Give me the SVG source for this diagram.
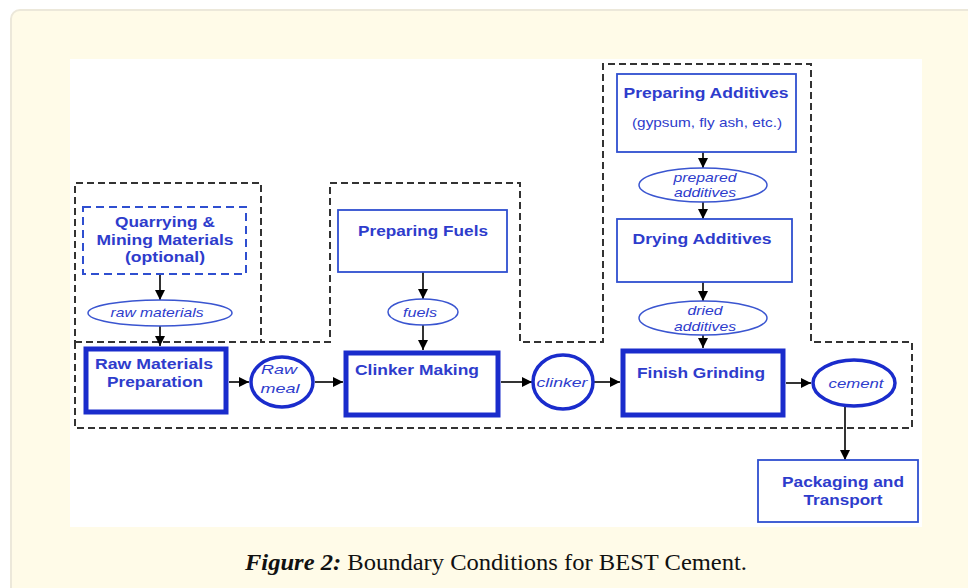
<svg xmlns="http://www.w3.org/2000/svg" width="968" height="588" viewBox="0 0 968 588">
<defs>
<style>
.lbl{font-family:"Liberation Sans",Arial,sans-serif;font-weight:bold;font-size:15px;fill:#2e3ccc;text-anchor:middle}
.it{font-family:"Liberation Sans",Arial,sans-serif;font-style:italic;font-size:13px;fill:#2e3ccc;text-anchor:middle}
.sub{font-family:"Liberation Sans",Arial,sans-serif;font-size:13px;fill:#2e3ccc;text-anchor:middle}
.thick{fill:#fff;stroke:#1a2ccc;stroke-width:5}
.thin{fill:#fff;stroke:#2f4fd0;stroke-width:1.8}
.circ{fill:#fff;stroke:#1a2ccc;stroke-width:3.5}
.ell{fill:#fff;stroke:#3a55d0;stroke-width:1.5}
.dash{fill:none;stroke:#333;stroke-width:2;stroke-dasharray:7 4}
.arr{stroke:#000;stroke-width:1.6;fill:none;marker-end:url(#ah)}
</style>
<marker id="ah" markerUnits="userSpaceOnUse" markerWidth="10" markerHeight="10" refX="10" refY="5" orient="auto">
<path d="M0,0 L10,5 L0,10 z" fill="#000"/>
</marker>
</defs>
<rect x="0" y="0" width="968" height="588" fill="#fff"/>
<rect x="11" y="10" width="990" height="600" rx="9" fill="#fffbe8" stroke="#ece8da" stroke-width="2"/>
<rect x="70" y="59" width="852" height="468" fill="#fff"/>

<g id="boundary">
<path class="dash" d="M75,342 L75,428 L912,428 L912,342 L811,342 L811,64 L603,64 L603,342 L520,342 L520,183 L330,183 L330,342 L261,342 L261,183 L75,183 Z M75,342 L261,342"/>
</g>

<g id="connectors">
<line class="arr" x1="160" y1="274" x2="160" y2="300"/>
<line class="arr" x1="160" y1="326" x2="160" y2="346"/>
<line class="arr" x1="229" y1="382" x2="249" y2="382"/>
<line class="arr" x1="315" y1="382" x2="343" y2="382"/>
<line class="arr" x1="423" y1="272" x2="423" y2="299"/>
<line class="arr" x1="423" y1="325" x2="423" y2="350"/>
<line class="arr" x1="501" y1="382" x2="532" y2="382"/>
<line class="arr" x1="594" y1="382" x2="620" y2="382"/>
<line class="arr" x1="703" y1="152" x2="703" y2="168"/>
<line class="arr" x1="703" y1="202" x2="703" y2="219"/>
<line class="arr" x1="703" y1="282" x2="703" y2="301"/>
<line class="arr" x1="703" y1="335" x2="703" y2="348"/>
<line class="arr" x1="786" y1="383" x2="811" y2="383"/>
<line class="arr" x1="845" y1="407" x2="845" y2="460"/>
</g>

<g id="quarrying">
<rect x="83" y="207" width="163" height="67" fill="#fff" stroke="#2f4fd0" stroke-width="2" stroke-dasharray="8 5"/>
<text class="lbl" x="165" y="227" textLength="100" lengthAdjust="spacingAndGlyphs">Quarrying &amp;</text>
<text class="lbl" x="165" y="245" textLength="137" lengthAdjust="spacingAndGlyphs">Mining Materials</text>
<text class="lbl" x="165" y="262" textLength="80" lengthAdjust="spacingAndGlyphs">(optional)</text>
</g>

<g id="raw-materials">
<ellipse class="ell" cx="160" cy="313" rx="72" ry="13"/>
<text class="it" x="157" y="317" textLength="93" lengthAdjust="spacingAndGlyphs">raw materials</text>
</g>

<g id="raw-materials-prep">
<rect class="thick" x="86" y="349" width="140" height="63"/>
<text class="lbl" x="154" y="369" textLength="118" lengthAdjust="spacingAndGlyphs">Raw Materials</text>
<text class="lbl" x="155" y="387" textLength="96" lengthAdjust="spacingAndGlyphs">Preparation</text>
</g>

<g id="raw-meal">
<ellipse class="circ" cx="282" cy="382" rx="31" ry="25"/>
<text class="it" x="279" y="374" font-size="14" textLength="36" lengthAdjust="spacingAndGlyphs">Raw</text>
<text class="it" x="280" y="393" font-size="14" textLength="39" lengthAdjust="spacingAndGlyphs">meal</text>
</g>

<g id="preparing-fuels">
<rect class="thin" x="338" y="210" width="169" height="62"/>
<text class="lbl" x="423" y="236" textLength="130" lengthAdjust="spacingAndGlyphs">Preparing Fuels</text>
</g>

<g id="fuels">
<ellipse class="ell" cx="423" cy="312" rx="35" ry="13"/>
<text class="it" x="420" y="317" textLength="34" lengthAdjust="spacingAndGlyphs">fuels</text>
</g>

<g id="clinker-making">
<rect class="thick" x="346" y="353" width="152" height="62"/>
<text class="lbl" x="417" y="375" textLength="124" lengthAdjust="spacingAndGlyphs">Clinker Making</text>
</g>

<g id="clinker">
<ellipse class="circ" cx="563" cy="382" rx="30" ry="27"/>
<text class="it" x="562" y="387" font-size="14" textLength="51" lengthAdjust="spacingAndGlyphs">clinker</text>
</g>

<g id="preparing-additives">
<rect class="thin" x="617" y="74" width="179" height="78"/>
<text class="lbl" x="706" y="98" textLength="165" lengthAdjust="spacingAndGlyphs">Preparing Additives</text>
<text class="sub" x="707" y="127" textLength="150" lengthAdjust="spacingAndGlyphs">(gypsum, fly ash, etc.)</text>
</g>

<g id="prepared-additives">
<ellipse class="ell" cx="703" cy="185" rx="64" ry="17"/>
<text class="it" x="705" y="182" textLength="63" lengthAdjust="spacingAndGlyphs">prepared</text>
<text class="it" x="705" y="197" textLength="62" lengthAdjust="spacingAndGlyphs">additives</text>
</g>

<g id="drying-additives">
<rect class="thin" x="617" y="219" width="175" height="63"/>
<text class="lbl" x="702" y="244" textLength="139" lengthAdjust="spacingAndGlyphs">Drying Additives</text>
</g>

<g id="dried-additives">
<ellipse class="ell" cx="703" cy="318" rx="64" ry="17"/>
<text class="it" x="705" y="315" textLength="35" lengthAdjust="spacingAndGlyphs">dried</text>
<text class="it" x="705" y="331" textLength="62" lengthAdjust="spacingAndGlyphs">additives</text>
</g>

<g id="finish-grinding">
<rect class="thick" x="623" y="351" width="160" height="64"/>
<text class="lbl" x="701" y="378" textLength="128" lengthAdjust="spacingAndGlyphs">Finish Grinding</text>
</g>

<g id="cement">
<ellipse class="circ" cx="854" cy="383" rx="41" ry="23"/>
<text class="it" x="856" y="388" textLength="55" lengthAdjust="spacingAndGlyphs">cement</text>
</g>

<g id="packaging">
<rect class="thin" x="758" y="460" width="160" height="62"/>
<text class="lbl" x="843" y="487" textLength="122" lengthAdjust="spacingAndGlyphs">Packaging and</text>
<text class="lbl" x="843" y="505" textLength="79" lengthAdjust="spacingAndGlyphs">Transport</text>
</g>

<text x="245" y="570" font-family="'Liberation Serif','Times New Roman',serif" font-size="23" fill="#111" textLength="502" lengthAdjust="spacingAndGlyphs"><tspan font-weight="bold" font-style="italic">Figure 2:</tspan> Boundary Conditions for BEST Cement.</text>
</svg>
